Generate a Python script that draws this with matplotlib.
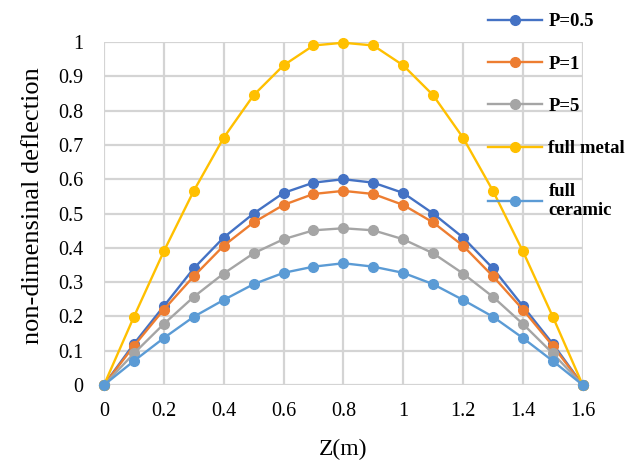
import matplotlib.pyplot as plt
import numpy as np

plt.rcParams['font.family'] = ['Liberation Serif', 'DejaVu Serif']

z = [0, 0.1, 0.2, 0.3, 0.4, 0.5, 0.6, 0.7, 0.8, 0.9, 1.0, 1.1, 1.2, 1.3, 1.4, 1.5, 1.6]

p05 = [0, 0.12, 0.23, 0.34, 0.43, 0.50, 0.56, 0.59, 0.60, 0.59, 0.56, 0.50, 0.43, 0.34, 0.23, 0.12, 0]
p1 = [0, 0.114, 0.22, 0.317, 0.406, 0.474, 0.525, 0.557, 0.566, 0.557, 0.525, 0.474, 0.406, 0.317, 0.22, 0.114, 0]
p5 = [0, 0.092, 0.178, 0.257, 0.325, 0.384, 0.425, 0.451, 0.457, 0.451, 0.425, 0.384, 0.325, 0.257, 0.178, 0.092, 0]
metal = [0, 0.199, 0.39, 0.566, 0.721, 0.845, 0.932, 0.99, 0.998, 0.99, 0.932, 0.845, 0.721, 0.566, 0.39, 0.199, 0]
ceramic = [0, 0.07, 0.137, 0.199, 0.248, 0.294, 0.327, 0.345, 0.355, 0.345, 0.327, 0.294, 0.248, 0.199, 0.137, 0.07, 0]

series = [
    ("P=0.5", p05, "#4472C4"),
    ("P=1", p1, "#ED7D31"),
    ("P=5", p5, "#A5A5A5"),
    ("full metal", metal, "#FFC000"),
    ("full\nceramic", ceramic, "#5B9BD5"),
]

fig = plt.figure(figsize=(6.4, 4.62), dpi=100)
ax = fig.add_axes([0.1625, 0.1667, 0.748, 0.7423])

for label, vals, color in series:
    ax.plot(z, vals, color=color, lw=1.7, marker="o", ms=7,
            label=label, clip_on=False)

ax.set_xlim(0, 1.6)
ax.set_ylim(0, 1)
ax.set_xticks(np.arange(0, 1.61, 0.2))
ax.set_xticklabels(["0", "0.2", "0.4", "0.6", "0.8", "1", "1.2", "1.4", "1.6"])
ax.set_yticks(np.arange(0, 1.01, 0.1))
ax.set_yticklabels(["0", "0.1", "0.2", "0.3", "0.4", "0.5", "0.6", "0.7", "0.8", "0.9", "1"])
ax.tick_params(axis="y", length=0, labelsize=14.5, pad=15)
ax.tick_params(axis="x", length=0, labelsize=14.5, pad=12)
ax.grid(color="#d4d4d4", lw=1.6)
ax.set_axisbelow(True)
for s in ax.spines.values():
    s.set_visible(False)

ax.set_xlabel("Z(m)", fontsize=17, labelpad=13)
ax.set_ylabel("non-dimensinal deflection", fontsize=19, labelpad=10)
ax.yaxis.label.set_y(0.523)

fig.legend(loc="upper left", bbox_to_anchor=(0.75, 0.988), frameon=False,
           prop={"weight": "bold", "size": 13.5}, handlelength=2.9,
           handletextpad=0.35, labelspacing=1.35, borderaxespad=0)

fig.savefig("out.png", dpi=100)
